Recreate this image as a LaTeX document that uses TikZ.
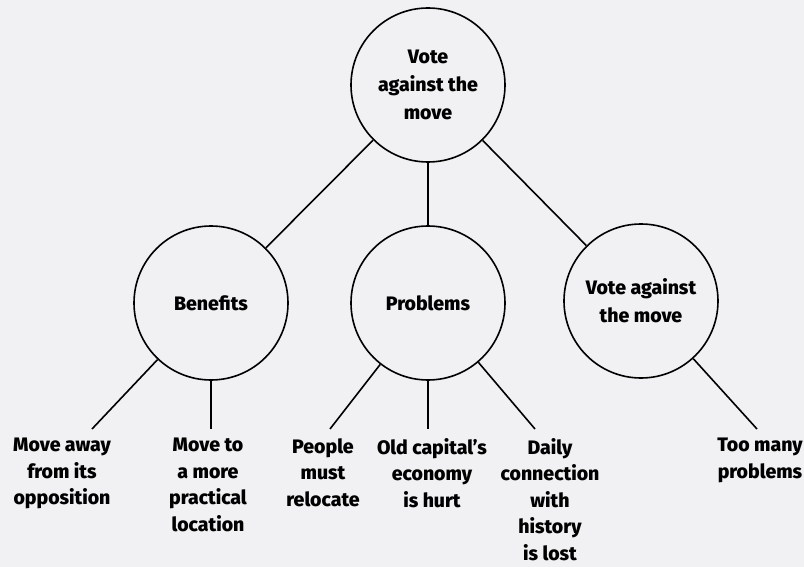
\documentclass[tikz,border=0pt]{standalone}
\usepackage{fontspec}
\setmainfont{Fira Sans}[BoldFont={Fira Sans ExtraBold}]
\usepackage{tikz}
\usetikzlibrary{calc}
\definecolor{paper}{RGB}{241,241,243}
\newcommand{\bubblesize}{154pt}
\tikzset{bubble/.style={circle, draw, line width=1.6pt, fill=none, inner sep=0pt, minimum width=\bubblesize, align=center, font=\fontsize{19.5}{28}\selectfont\bfseries}}
\tikzset{leaf/.style={draw=none, fill=none, anchor=north, inner sep=0pt, align=center, font=\fontsize{19.5}{26.6}\selectfont\bfseries}}
\tikzset{twig/.style={line width=1.6pt}}

\begin{document}
\begin{tikzpicture}[x=1pt,y=-1pt]

\fill[paper] (0,0) rectangle (804,567);
\useasboundingbox (0,0) rectangle (804,567);

\node[bubble] (vote) at (428,85) {Vote\\against the\\move};
\node[bubble] (ben) at (211,303) {Benefits};
\node[bubble] (prob) at (428,303) {Problems};
\node[bubble] (vote2) at (641,301) {Vote against\\the move};

\draw[twig] (vote) -- (ben);
\draw[twig] (vote) -- (prob);
\draw[twig] (vote) -- (vote2);

\coordinate (b1) at (92,429);
\coordinate (b2) at (211,429);
\coordinate (p1) at (330,429);
\coordinate (p2) at (428,429);
\coordinate (p3) at (535,429);
\coordinate (v1) at (757,429);

\draw[twig] (ben) -- (b1);
\draw[twig] (ben.south) -- (b2);
\draw[twig] (prob) -- (p1);
\draw[twig] (prob.south) -- (p2);
\draw[twig] (prob) -- (p3);
\draw[twig] (vote2) -- (v1);

\node[leaf] (away) at (62,438) {Move away\\from its\\opposition};
\node[leaf] (practical) at (208,438) {Move to\\a more\\practical\\location};
\node[leaf] (people) at (323,438) {People\\must\\relocate};
\node[leaf] (economy) at (432,438) {Old capital's\\economy\\is hurt};
\node[leaf] (history) at (550,438) {Daily\\connection\\with\\history\\is lost};
\node[leaf] (many) at (760,438) {Too many\\problems};

\end{tikzpicture}
\end{document}
